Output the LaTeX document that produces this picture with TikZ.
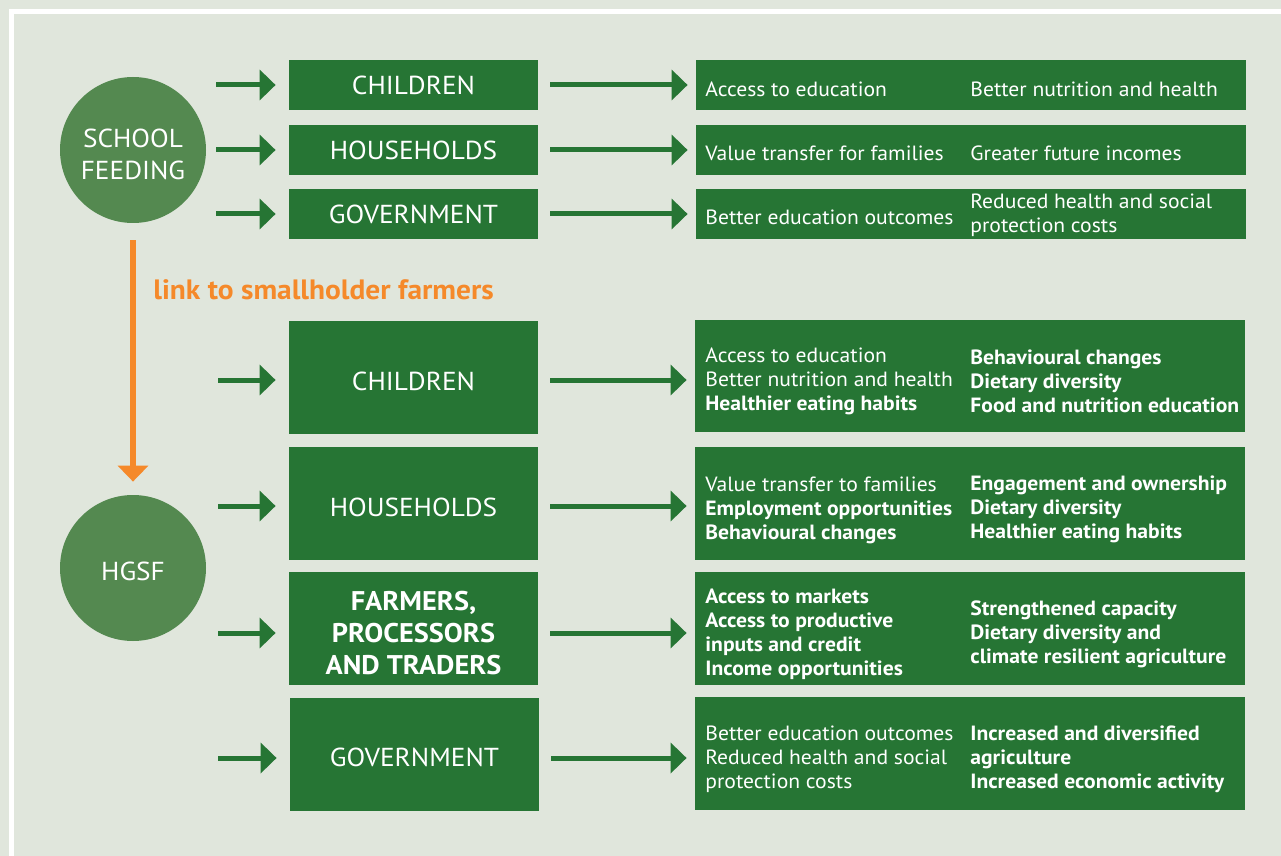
\documentclass[tikz,border=0pt]{standalone}
\usepackage{fontspec}
\setmainfont{PT Sans}[FakeStretch=1.05]
\usetikzlibrary{arrows.meta}
\definecolor{bggrey}{HTML}{E0E6DC}
\definecolor{wfpgreen}{HTML}{267534}
\definecolor{hubgreen}{HTML}{548950}
\definecolor{linkorange}{HTML}{F5892A}
\tikzset{
  hub/.style={circle, fill=hubgreen, text=white, minimum size=73pt, inner sep=0pt,
    align=center, font=\fontsize{13}{16}\selectfont},
  group/.style={rectangle, fill=wfpgreen, text=white, minimum width=124.5pt, inner sep=0pt,
    align=center, font=\fontsize{13}{16}\selectfont},
  lower/.style={text height=13pt},
  result/.style={rectangle, fill=wfpgreen, minimum width=275pt, inner sep=0pt},
  item/.style={text=white, anchor=west, align=left, inner sep=0pt,
    font=\fontsize{10.3}{12}\selectfont},
  bolditem/.style={item, font=\bfseries\fontsize{10.3}{12}\selectfont},
  arr/.style={wfpgreen, line width=2.5pt, -{Triangle[length=8pt,width=15pt]}},
}
\begin{document}
\begin{tikzpicture}[x=0.5pt, y=-0.5pt]
  \fill[bggrey] (0,0) rectangle (1281,856);
  \useasboundingbox (0,0) rectangle (1281,856);
  \fill[white] (9,9) rectangle (1281,14);
  \fill[white] (9,9) rectangle (14,856);

  \node[hub, text height=30pt] (sf) at (133,150) {SCHOOL\\FEEDING};
  \node[hub, lower] (hgsf) at (133,568) {HGSF};
  \draw[linkorange, line width=3pt, -{Triangle[length=8pt,width=15pt]},
    shorten <=8.5pt, shorten >=6.5pt] (sf) -- (hgsf);
  \node[text=linkorange, anchor=west, inner sep=0pt,
    font=\bfseries\fontsize{14}{16}\selectfont] (link) at (153,290) {link to smallholder farmers};

  % school feeding
  \node[group, minimum height=25pt] (sfch) at (413.5,85) {CHILDREN};
  \node[group, minimum height=25pt] (sfho) at (413.5,150) {HOUSEHOLDS};
  \node[group, minimum height=25pt] (sfgo) at (413.5,214) {GOVERNMENT};
  \node[result, minimum height=25pt] (sfchr) at (971,85) {};
  \node[result, minimum height=25pt] (sfhor) at (971,150) {};
  \node[result, minimum height=25pt] (sfgor) at (971,214) {};
  \node[item] (sfch1) at (705,89) {Access to education};
  \node[item] (sfch2) at (970,89) {Better nutrition and health};
  \node[item] (sfho1) at (705,153) {Value transfer for families};
  \node[item] (sfho2) at (970,153) {Greater future incomes};
  \node[item] (sfgo1) at (705,217) {Better education outcomes};
  \node[item] (sfgo2) at (970,215) {Reduced health and social\\protection costs};

  % home-grown school feeding
  \node[group, lower, minimum height=56.5pt] (hgch) at (413.5,377.5) {CHILDREN};
  \node[group, lower, minimum height=56.5pt] (hgho) at (413.5,503.5) {HOUSEHOLDS};
  \node[group, text height=46pt, minimum height=56.5pt, font=\bfseries\fontsize{13.5}{16}\selectfont]
    (hgfa) at (413.5,628.5) {FARMERS,\\PROCESSORS\\AND TRADERS};
  \node[group, lower, minimum height=56.5pt] (hggo) at (414.5,754) {GOVERNMENT};
  \node[result, minimum height=56pt] (hgchr) at (970,376) {};
  \node[result, minimum height=56.5pt] (hghor) at (970,503.5) {};
  \node[result, minimum height=56.5pt] (hgfar) at (970,628.5) {};
  \node[result, minimum height=56.5pt] (hggor) at (970,753.5) {};
  \node[item] (hgch1) at (705,381) {Access to education\\Better nutrition and health\\
    \textbf{Healthier eating habits}};
  \node[bolditem] (hgch2) at (970,381)
    {Behavioural changes\\Dietary diversity\\Food and nutrition education};
  \node[item] (hgho1) at (705,510) {Value transfer to families\\
    \textbf{Employment opportunities}\\\textbf{Behavioural changes}};
  \node[bolditem] (hgho2) at (970,509)
    {Engagement and ownership\\Dietary diversity\\Healthier eating habits};
  \node[bolditem] (hgfa1) at (705,634)
    {Access to markets\\Access to productive\\inputs and credit\\Income opportunities};
  \node[bolditem] (hgfa2) at (970,634)
    {Strengthened capacity\\Dietary diversity and\\climate resilient agriculture};
  \node[item] (hggo1) at (705,759) {Better education outcomes\\Reduced health and social\\
    protection costs};
  \node[bolditem] (hggo2) at (970,759)
    {Increased and diversified\\agriculture\\Increased economic activity};

  \foreach \g/\y in {sfch/85, sfho/150, sfgo/214} {
    \coordinate (\g s) at (216,\y);
    \draw[arr, shorten >=6.5pt] (\g s) -- (\g.west);
    \draw[arr, shorten <=6pt, shorten >=4pt] (\g) -- (\g r);
  }
  \foreach \g/\y in {hgch/380, hgho/506, hgfa/633, hggo/758} {
    \coordinate (\g s) at (218,\y);
    \draw[arr, shorten >=6.5pt] (\g s) -- (\g.west |- \g s);
    \draw[arr, shorten <=6pt, shorten >=4pt] (\g.east |- \g s) -- (\g r.west |- \g s);
  }
\end{tikzpicture}
\end{document}
